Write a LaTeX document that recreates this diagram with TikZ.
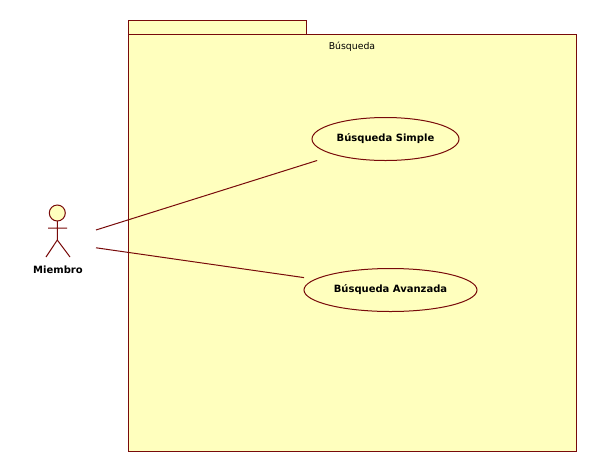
\documentclass[tikz,border=0pt]{standalone}
\usepackage{fontspec}
\setmainfont{DejaVu Sans}
\definecolor{umlline}{RGB}{120,10,10}
\definecolor{umlfill}{RGB}{255,255,190}
\begin{document}
\begin{tikzpicture}[x=0.75pt,y=-0.75pt,
  umlshape/.style={draw=umlline,line width=0.75pt,fill=umlfill},
  umlline/.style={draw=umlline,line width=0.75pt},
  anchorbox/.style={rectangle,draw=none,inner sep=0pt,outer sep=0pt},
  title/.style={font=\fontsize{7pt}{8pt}\selectfont,text=black,inner sep=0pt},
  usecase/.style={anchorbox,font=\fontsize{7.5pt}{9pt}\selectfont\bfseries,text=black}]
\useasboundingbox (0,0) rectangle (596,472);
\fill[white] (0,0) rectangle (596,472);
% package
\draw[umlshape] (128,20) rectangle (306,34.5);
\draw[umlshape] (128,34.5) rectangle (576,451);
\node[title] (pkg) at (352,46.5) {Búsqueda};
% use cases
\draw[umlshape] (385.5,139) ellipse (73.5 and 21.5);
\draw[umlshape] (390.5,290) ellipse (86.5 and 21.5);
\node[usecase,minimum width=110.25pt,minimum height=32.25pt] (simple) at (385.5,139) {\raisebox{-0.6pt}{Búsqueda Simple}};
\node[usecase,minimum width=129.75pt,minimum height=32.25pt] (avanzada) at (390.5,290) {\raisebox{-0.6pt}{Búsqueda Avanzada}};
% actor
\node[anchorbox,minimum width=58.5pt,minimum height=45pt] (actor) at (57,242.2) {};
\draw[umlshape] (57.3,213) circle (8);
\draw[umlline] (57.3,221) -- (57.3,240) (48,228) -- (67,228) (46,257) -- (57.3,240) -- (70,257);
\node[font=\fontsize{7.5pt}{9pt}\selectfont\bfseries,inner sep=0pt] (label) at (58,269.7) {Miembro};
% connectors
\draw[umlline] (actor) -- (simple);
\draw[umlline] (actor) -- (avanzada);
\end{tikzpicture}
\end{document}
